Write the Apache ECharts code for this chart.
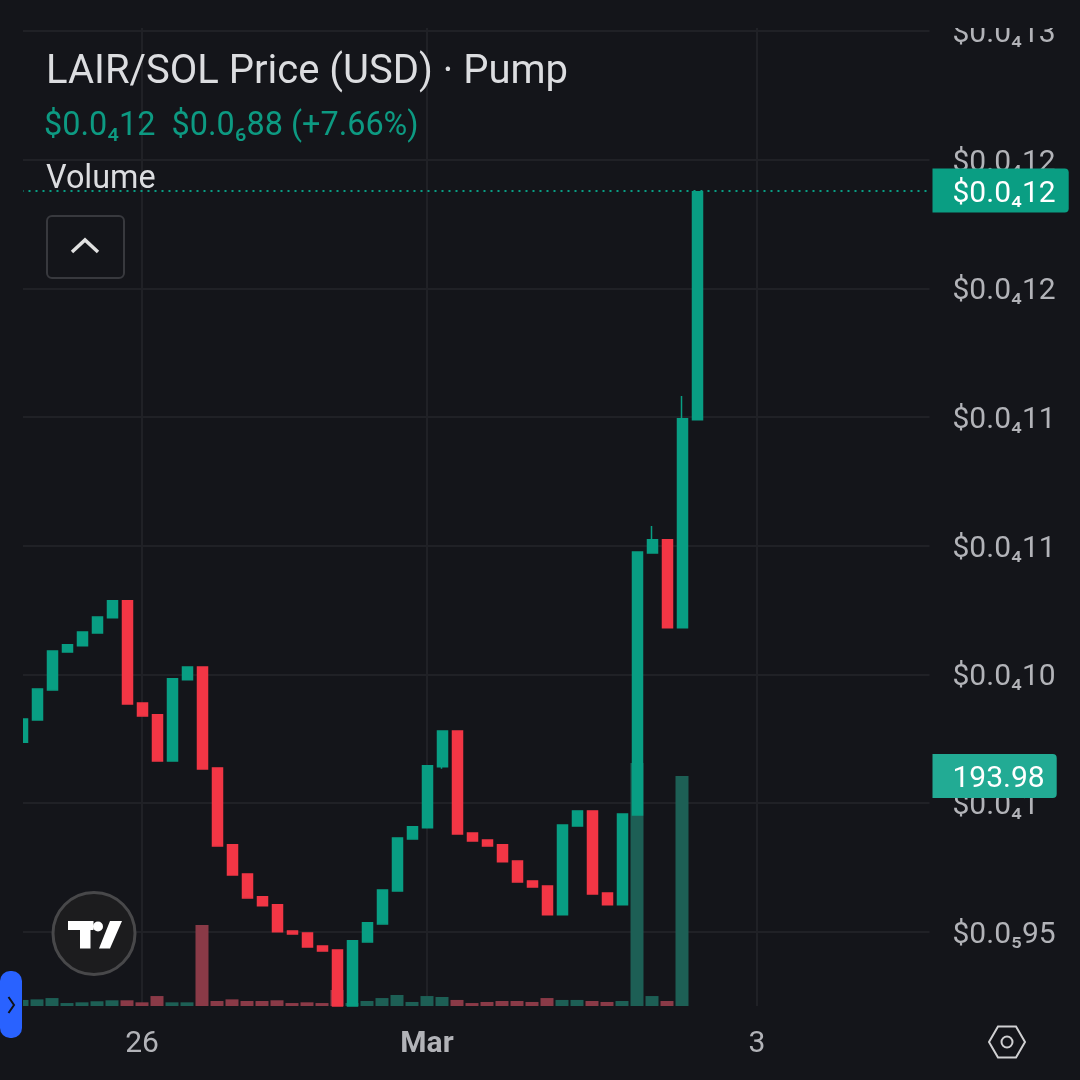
<!DOCTYPE html>
<html><head><meta charset="utf-8">
<style>html,body{margin:0;padding:0;background:#14151a}#c{width:1080px;height:1080px}</style>
<script src="https://cdn.jsdelivr.net/npm/echarts@6/dist/echarts.min.js"></script>
</head><body><div id="c"></div>
<script>
// prices in units of $0.000001
const opens = [10.237,10.323,10.440,10.587,10.611,10.661,10.720,10.786,10.389,10.343,10.164,10.479,10.529,10.137,9.838,9.725,9.636,9.605,9.503,9.496,9.445,9.430,9.212,9.461,9.531,9.659,9.861,9.904,10.141,10.280,9.884,9.857,9.838,9.775,9.698,9.678,9.566,9.911,9.970,9.651,9.605,9.954,10.972,11.023,10.681,11.489];
const closes = [10.327,10.443,10.591,10.615,10.665,10.723,10.786,10.385,10.339,10.164,10.483,10.529,10.133,9.834,9.721,9.632,9.601,9.500,9.492,9.441,9.426,9.212,9.465,9.535,9.663,9.865,9.908,10.145,10.280,9.880,9.853,9.834,9.772,9.694,9.674,9.566,9.915,9.970,9.647,9.605,9.958,10.976,11.023,10.681,11.493,12.375];
const highs = [10.327,10.443,10.591,10.615,10.665,10.723,10.786,10.786,10.389,10.343,10.483,10.529,10.529,10.137,9.838,9.725,9.636,9.605,9.503,9.496,9.445,9.430,9.465,9.535,9.663,9.865,9.908,10.145,10.280,10.280,9.884,9.857,9.838,9.775,9.698,9.678,9.915,9.970,9.970,9.651,9.958,10.976,11.077,11.023,11.582,12.375];
const lows = [10.237,10.323,10.440,10.587,10.611,10.661,10.720,10.385,10.339,10.164,10.164,10.479,10.133,9.834,9.721,9.632,9.601,9.500,9.492,9.441,9.426,9.212,9.212,9.461,9.531,9.659,9.861,9.904,10.134,9.880,9.853,9.834,9.772,9.694,9.674,9.566,9.566,9.911,9.647,9.605,9.605,9.954,10.972,10.681,10.681,11.489];
const volumes = [5.1,5.6,6.7,2.5,3.1,4.0,4.8,4.8,3.1,8.4,3.1,3.1,68.3,4.2,5.6,4.2,4.2,4.8,2.5,3.1,2.5,13.5,2.5,4.2,6.7,9.3,3.4,8.4,7.6,5.1,2.5,3.4,4.2,4.2,3.4,6.7,5.1,5.1,4.2,3.4,4.2,204.9,8.4,4.2,193.98,0];
const priceTicks = [9.5,10,10.5,11,11.5,12,12.5,13];
const priceLabels = ['$0.0₅95','$0.0₄1','$0.0₄10','$0.0₄11','$0.0₄11','$0.0₄12','$0.0₄12','$0.0₄13'];
const xTickSlots = [8,27,49];
const xTickLabels = ['26','Mar','3'];
const slotCount = 61;
const categories = Array.from({length:slotCount},(_,i)=>'slot'+i);
const lastPrice = 12.375;
const lastPriceLabel = '$0.0₄12';
const lastVolume = 193.98;

const BG='#14151a', UP='#089e83', DOWN='#f23645', VUP='#1d5f55', VDOWN='#8a3a47', GRID='#202126', TXT='#b2b3b8', FONT='Roboto';
const chart = echarts.init(document.getElementById('c'),null,{renderer:'canvas',width:1080,height:1080});
const candle = opens.map((o,i)=>[o,closes[i],lows[i],highs[i]]);
const vol = volumes.map((v,i)=>({value:v,itemStyle:{color:closes[i]>=opens[i]?VUP:VDOWN}}));
const tagRich = {t:{fontFamily:FONT,fontSize:30,color:'#fff',padding:[8,0,0,0]}};

chart.setOption({
 animation:false, backgroundColor:BG,
 grid:{left:14.5,right:150.5,top:0,bottom:74,containLabel:false},
 xAxis:{type:'category',data:categories,boundaryGap:true,
  axisLine:{show:false},axisTick:{show:false,alignWithLabel:true},
  axisLabel:{show:true,interval:(i)=>xTickSlots.includes(i),margin:23,fontFamily:FONT,fontSize:30,color:TXT,
    formatter:(v,i)=>{const k=xTickSlots.indexOf(i);if(k<0)return '';return xTickLabels[k]==='Mar'?'{b|Mar}':xTickLabels[k];},
    rich:{b:{fontFamily:FONT,fontSize:30,fontWeight:'bold',color:TXT}}},
  splitLine:{show:true,alignWithLabel:true,interval:(i)=>xTickSlots.includes(i),lineStyle:{color:GRID,width:2}}},
 yAxis:[
  {type:'value',min:9.212,max:13.12,position:'right',offset:0,axisLine:{show:false},
   axisTick:{show:false,customValues:priceTicks},
   axisLabel:{customValues:priceTicks,margin:23,fontFamily:FONT,fontSize:30,color:TXT,align:'left',
     rich:{p:{fontFamily:FONT,fontSize:30,color:TXT,padding:[7,0,0,0]}},
     formatter:(v)=>{let k=priceTicks.findIndex(t=>Math.abs(t-v)<1e-6);return k<0?'':'{p|'+priceLabels[k]+'}';}},
   splitLine:{show:true,lineStyle:{color:GRID,width:2}}},
  {type:'value',min:0,max:848.3,show:false,splitLine:{show:false}}
 ],
 series:[
  {type:'bar',yAxisIndex:1,data:vol,barWidth:13,z:2,silent:true,
   markLine:{silent:true,symbol:'none',precision:2,animation:false,
    lineStyle:{color:'rgba(0,0,0,0)',width:0},
    data:[{yAxis:lastVolume}],
    label:{show:true,position:'end',distance:3,formatter:()=>'{t|'+lastVolume.toFixed(2)+'}',rich:tagRich,backgroundColor:'#22ab94',
      padding:[3,12,3,20],borderRadius:[0,4,4,0]}}},
  {type:'candlestick',data:candle,barWidth:10.5,z:3,silent:true,
   itemStyle:{color:UP,borderColor:UP,color0:DOWN,borderColor0:DOWN,borderWidth:1.5},
   markLine:{silent:true,symbol:'none',animation:false,
    lineStyle:{color:UP,type:[2,5],width:2},
    data:[{yAxis:lastPrice}],
    label:{show:true,position:'end',distance:3,formatter:()=>'{t|'+lastPriceLabel+'}',rich:tagRich,backgroundColor:'#0a9e83',
      padding:[3,13,3,20],borderRadius:[0,4,4,0]}}}
 ],
 graphic:[
  {type:'rect',z:50,silent:true,shape:{x:0,y:0,width:1080,height:28},style:{fill:BG}},
  {type:'rect',z:50,silent:true,shape:{x:0,y:0,width:23,height:1080},style:{fill:BG}},
  {type:'text',z:60,silent:true,x:46,y:73,style:{text:'LAIR/SOL Price (USD) · Pump',font:'40px Roboto',fill:'#dcdde0',textVerticalAlign:'middle'}},
  {type:'text',z:60,silent:true,x:44,y:127,style:{text:'$0.0₄12  $0.0₆88 (+7.66%)',font:'32.4px Roboto',fill:'#0d9a82',textVerticalAlign:'middle'}},
  {type:'text',z:60,silent:true,x:46,y:180,style:{text:'Volume',font:'32.4px Roboto',fill:'#dcdde0',textVerticalAlign:'middle'}},
  {type:'rect',z:60,silent:true,shape:{x:47,y:216,width:77,height:62,r:5},style:{fill:BG,stroke:'#38393e',lineWidth:2}},
  {type:'polyline',z:60,silent:true,shape:{points:[[72,252],[85,240],[98,252]]},style:{stroke:'#e0e0e0',lineWidth:3.5,fill:null}},
  {type:'circle',z:60,silent:true,shape:{cx:94,cy:933.5,r:41},style:{fill:'#1c1c1e',stroke:'#48484a',lineWidth:3}},
  {type:'polygon',z:61,silent:true,shape:{points:[[68,921],[93.5,921],[93.5,930],[90.5,930],[90.5,948.5],[80,948.5],[80,930],[68,930]]},style:{fill:'#fff'}},
  {type:'circle',z:61,silent:true,shape:{cx:98,cy:926.5,r:5},style:{fill:'#fff'}},
  {type:'polygon',z:61,silent:true,shape:{points:[[110,921],[122,921],[110,948.5],[99,948.5]]},style:{fill:'#fff'}},
  {type:'rect',z:60,silent:true,shape:{x:0,y:971,width:22,height:67,r:10},style:{fill:'#2962ff'}},
  {type:'polyline',z:61,silent:true,shape:{points:[[8.5,997],[14,1005],[8.5,1013]]},style:{stroke:'#101218',lineWidth:2,fill:null}},
  {type:'polygon',z:60,silent:true,shape:{points:[[989,1042],[998,1026.5],[1016,1026.5],[1025,1042],[1016,1057.5],[998,1057.5]]},style:{fill:'none',stroke:'#d0d0d2',lineWidth:2}},
  {type:'circle',z:60,silent:true,shape:{cx:1007,cy:1042,r:5.5},style:{fill:'none',stroke:'#d0d0d2',lineWidth:2}}
 ]
});
</script></body></html>
